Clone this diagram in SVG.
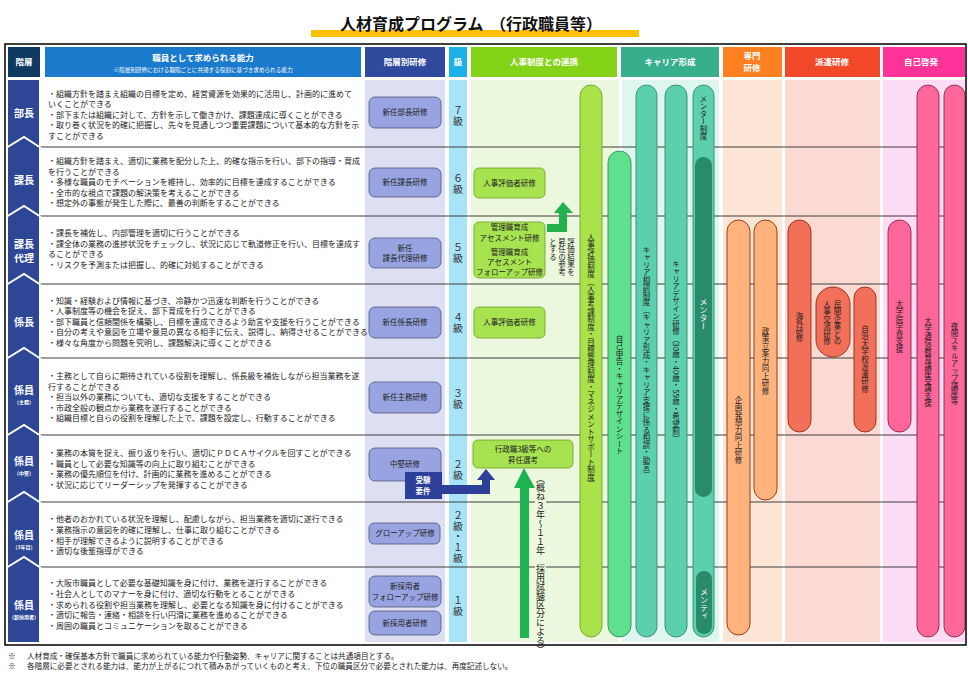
<svg xmlns="http://www.w3.org/2000/svg" width="968" height="680" viewBox="0 0 968 680">
<style>
text{font-family:"Noto Sans CJK JP","Noto Sans",sans-serif;fill:#222}
.body{font-size:8px}
.hd{font-size:8.5px;font-weight:bold;fill:#fff;text-anchor:middle}
.lv{font-size:10px;font-weight:bold;fill:#fff;text-anchor:middle}
.sub{font-size:5px;font-weight:bold;fill:#fff;text-anchor:middle}
.kbox{fill:#98a4e2;stroke:#4e5678;stroke-width:0.8}
.kt{font-size:7.5px;text-anchor:middle}
.gbox{fill:#a7e250;stroke:#6b9f25;stroke-width:0.8}
.vt{writing-mode:vertical-rl;font-size:7.5px}
.kyu{writing-mode:vertical-rl;font-size:10px;fill:#333;letter-spacing:1.5px}
.row{stroke:#3d3d3d;stroke-width:1}
.pl{fill:#a9e24a;stroke:#76a02c;stroke-width:0.9}
.pg{fill:#5fe08c;stroke:#2f8c62;stroke-width:0.9}
.pt{fill:#5ccfad;stroke:#2f8c70;stroke-width:0.9}
.po{fill:#ffb37c;stroke:#8c2c12;stroke-width:0.9}
.pr{fill:#f2705a;stroke:#8c2c12;stroke-width:0.9}
.pp{fill:#ff6699;stroke:#8c2446;stroke-width:0.9}
.chev{fill:none;stroke:#fff;stroke-width:2}
</style>

<!-- title -->
<g id="title">
<rect x="311" y="30" width="328" height="7" fill="#ffc000"/>
<text x="340" y="30" style="font-size:16px;font-weight:bold;fill:#111">人材育成プログラム</text>
<text x="490" y="30" style="font-size:16px;font-weight:bold;fill:#111">（行政職員等）</text>
</g>

<!-- column backgrounds -->
<g id="backgrounds">
<rect x="365" y="80" width="80" height="562" fill="#dde0f2"/>
<rect x="449" y="80" width="18" height="562" fill="#a8e4f8"/>
<rect x="471" y="80" width="148" height="562" fill="#ebf8dd"/>
<rect x="622" y="80" width="97" height="562" fill="#dff5ef"/>
<rect x="723" y="80" width="59" height="562" fill="#fde6d6"/>
<rect x="785" y="80" width="95" height="562" fill="#fbdad4"/>
<rect x="883" y="80" width="82" height="562" fill="#fddcf5"/>
</g>

<!-- header -->
<g id="header">
<rect x="8" y="47" width="32" height="30" fill="#0f3a62"/>
<text class="hd" x="24" y="65">階層</text>
<rect x="45" y="47" width="316" height="30" fill="#1a7acb"/>
<text class="hd" x="203" y="61">職員として求められる能力</text>
<text x="203" y="72" style="font-size:5.6px;fill:#fff;text-anchor:middle">※階層別研修における職階ごとに共通する役割に基づき求められる能力</text>
<rect x="365" y="47" width="80" height="30" fill="#2f4a9c"/>
<text class="hd" x="405" y="65">階層別研修</text>
<rect x="449" y="47" width="18" height="30" fill="#1ab2e8"/>
<text class="hd" x="458" y="65">級</text>
<rect x="471" y="47" width="146" height="30" fill="#84d318"/>
<text class="hd" x="544" y="65">人事制度との連携</text>
<rect x="621" y="47" width="98" height="30" fill="#37ae8c"/>
<text class="hd" x="670" y="65">キャリア形成</text>
<rect x="723" y="47" width="59" height="30" fill="#ff8020"/>
<text class="hd" x="752" y="59">専門</text>
<text class="hd" x="752" y="71">研修</text>
<rect x="785" y="47" width="95" height="30" fill="#f04828"/>
<text class="hd" x="832" y="65">派遣研修</text>
<rect x="883" y="47" width="82" height="30" fill="#ff3399"/>
<text class="hd" x="921" y="65">自己啓発</text>
</g>

<!-- row lines -->
<g id="rowlines">
<line class="row" x1="40" y1="147" x2="965" y2="147"/>
<line class="row" x1="40" y1="216" x2="965" y2="216"/>
<line class="row" x1="40" y1="284" x2="965" y2="284"/>
<line class="row" x1="40" y1="358" x2="965" y2="358"/>
<line class="row" x1="40" y1="435" x2="965" y2="435"/>
<line class="row" x1="40" y1="502" x2="965" y2="502"/>
<line class="row" x1="40" y1="567" x2="965" y2="567"/>
</g>

<!-- level column -->
<g id="levels">
<rect x="8" y="80" width="31" height="562" fill="#2e4696"/>
<polyline class="chev" points="6,148 24,137 41,148"/>
<polyline class="chev" points="6,217 24,206 41,217"/>
<polyline class="chev" points="6,285 24,274 41,285"/>
<polyline class="chev" points="6,359 24,348 41,359"/>
<polyline class="chev" points="6,436 24,425 41,436"/>
<polyline class="chev" points="6,503 24,492 41,503"/>
<polyline class="chev" points="6,568 24,557 41,568"/>
<text class="lv" x="24" y="117">部長</text>
<text class="lv" x="24" y="184">課長</text>
<text class="lv" x="24" y="248">課長</text>
<text class="lv" x="24" y="262">代理</text>
<text class="lv" x="24" y="326">係長</text>
<text class="lv" x="24" y="394">係員</text>
<text class="sub" x="24" y="403.5">（主務）</text>
<text class="lv" x="24" y="465">係員</text>
<text class="sub" x="24" y="474.5">（中堅）</text>
<text class="lv" x="24" y="539">係員</text>
<text class="sub" x="24" y="548.5">（3年目）</text>
<text class="lv" x="24" y="609">係員</text>
<text class="sub" x="24" y="618.5">（新採用者）</text>
</g>

<!-- abilities -->
<g id="abilities" class="body">
<text class="body" x="48" y="97">・組織方針を踏まえ組織の目標を定め、経営資源を効果的に活用し、計画的に進めて</text>
<text class="body" x="48" y="107.4">いくことができる</text>
<text class="body" x="48" y="117.8">・部下または組織に対して、方針を示して働きかけ、課題達成に導くことができる</text>
<text class="body" x="48" y="128.2">・取り巻く状況を的確に把握し、先々を見通しつつ重要課題について基本的な方針を示</text>
<text class="body" x="48" y="138.6">すことができる</text>

<text class="body" x="48" y="164">・組織方針を踏まえ、適切に業務を配分した上、的確な指示を行い、部下の指導・育成</text>
<text class="body" x="48" y="174.5">を行うことができる</text>
<text class="body" x="48" y="185">・多様な職員のモチベーションを維持し、効率的に目標を達成することができる</text>
<text class="body" x="48" y="195.5">・全市的な視点で課題の解決策を考えることができる</text>
<text class="body" x="48" y="206">・想定外の事態が発生した際に、最善の判断をすることができる</text>

<text class="body" x="48" y="236">・課長を補佐し、内部管理を適切に行うことができる</text>
<text class="body" x="48" y="246.6">・課全体の業務の進捗状況をチェックし、状況に応じて軌道修正を行い、目標を達成す</text>
<text class="body" x="48" y="257.2">ることができる</text>
<text class="body" x="48" y="267.8">・リスクを予測または把握し、的確に対処することができる</text>

<text class="body" x="48" y="304">・知識・経験および情報に基づき、冷静かつ迅速な判断を行うことができる</text>
<text class="body" x="48" y="314.4">・人事制度等の機会を捉え、部下育成を行うことができる</text>
<text class="body" x="48" y="324.8">・部下職員と信頼関係を構築し、目標を達成できるよう助言や支援を行うことができる</text>
<text class="body" x="48" y="335.2">・自分の考えや意図を立場や意見の異なる相手に伝え、説得し、納得させることができる</text>
<text class="body" x="48" y="345.6">・様々な角度から問題を究明し、課題解決に導くことができる</text>

<text class="body" x="48" y="379">・主務として自らに期待されている役割を理解し、係長級を補佐しながら担当業務を遂</text>
<text class="body" x="48" y="389.5">行することができる</text>
<text class="body" x="48" y="400">・担当以外の業務についても、適切な支援をすることができる</text>
<text class="body" x="48" y="410.5">・市政全般の観点から業務を遂行することができる</text>
<text class="body" x="48" y="421">・組織目標と自らの役割を理解した上で、課題を設定し、行動することができる</text>

<text class="body" x="48" y="456">・業務の本質を捉え、振り返りを行い、適切にＰＤＣＡサイクルを回すことができる</text>
<text class="body" x="48" y="466.5">・職員として必要な知識等の向上に取り組むことができる</text>
<text class="body" x="48" y="477">・業務の優先順位を付け、計画的に業務を進めることができる</text>
<text class="body" x="48" y="487.5">・状況に応じてリーダーシップを発揮することができる</text>

<text class="body" x="48" y="522">・他者のおかれている状況を理解し、配慮しながら、担当業務を適切に遂行できる</text>
<text class="body" x="48" y="532.8">・業務指示の意図を的確に理解し、仕事に取り組むことができる</text>
<text class="body" x="48" y="543.6">・相手が理解できるように説明することができる</text>
<text class="body" x="48" y="554.4">・適切な後輩指導ができる</text>

<text class="body" x="48" y="586">・大阪市職員として必要な基礎知識を身に付け、業務を遂行することができる</text>
<text class="body" x="48" y="596.8">・社会人としてのマナーを身に付け、適切な行動をとることができる</text>
<text class="body" x="48" y="607.6">・求められる役割や担当業務を理解し、必要となる知識を身に付けることができる</text>
<text class="body" x="48" y="618.4">・適切に報告・連絡・相談を行い円滑に業務を進めることができる</text>
<text class="body" x="48" y="629.2">・周囲の職員とコミュニケーションを取ることができる</text>
</g>

<!-- grade labels -->
<g id="grades">
<text class="kyu" x="458" y="105">７級</text>
<text class="kyu" x="458" y="173">６級</text>
<text class="kyu" x="458" y="242">５級</text>
<text class="kyu" x="458" y="312">４級</text>
<text class="kyu" x="458" y="388">３級</text>
<text class="kyu" x="458" y="459">２級</text>
<text class="kyu" x="458" y="510" style="letter-spacing:0.8px">２級・１級</text>
<text class="kyu" x="458" y="595">１級</text>
</g>

<!-- rank training -->
<g id="k-bucho"><rect class="kbox" x="369" y="97" width="72" height="31" rx="6"/><text class="kt" x="405" y="115">新任部長研修</text></g>
<g id="k-kacho"><rect class="kbox" x="369" y="168" width="72" height="29" rx="6"/><text class="kt" x="405" y="185">新任課長研修</text></g>
<g id="k-dairi"><rect class="kbox" x="369" y="238" width="72" height="30" rx="6"/><text class="kt" x="405" y="251">新任</text><text class="kt" x="405" y="261">課長代理研修</text></g>
<g id="k-kakaricho"><rect class="kbox" x="369" y="307" width="72" height="31" rx="6"/><text class="kt" x="405" y="325">新任係長研修</text></g>
<g id="k-shumu"><rect class="kbox" x="369" y="382" width="72" height="31" rx="6"/><text class="kt" x="405" y="400">新任主務研修</text></g>
<g id="k-chuken"><rect class="kbox" x="369" y="448" width="72" height="33" rx="6"/><text class="kt" x="405" y="467">中堅研修</text></g>
<g id="k-grow"><rect class="kbox" x="369" y="523" width="71" height="21" rx="5"/><text class="kt" x="405" y="536">グローアップ研修</text></g>
<g id="k-follow"><rect class="kbox" x="369" y="576" width="72" height="31" rx="6"/><text class="kt" x="405" y="589">新採用者</text><text class="kt" x="405" y="600">フォローアップ研修</text></g>
<g id="k-shinsai"><rect class="kbox" x="369" y="611" width="72" height="24" rx="6"/><text class="kt" x="405" y="626">新採用者研修</text></g>

<!-- HR system boxes -->
<g id="j-hyoka6"><rect class="gbox" x="474" y="168" width="71" height="30" rx="5"/><text class="kt" x="509.5" y="186">人事評価者研修</text></g>
<g id="j-assess"><rect class="gbox" x="474" y="222" width="71" height="56" rx="5"/>
<text class="kt" x="509.5" y="230">管理職育成</text><text class="kt" x="509.5" y="241">アセスメント研修</text>
<text class="kt" x="509.5" y="255">管理職育成</text><text class="kt" x="509.5" y="265">アセスメント</text><text class="kt" x="509.5" y="275">フォローアップ研修</text></g>
<g id="j-hyoka4"><rect class="gbox" x="474" y="307" width="71" height="31" rx="5"/><text class="kt" x="509.5" y="325">人事評価者研修</text></g>
<g id="j-shonin"><rect class="gbox" x="473" y="440" width="100" height="28" rx="5"/><text class="kt" x="523" y="452">行政職3級等への</text><text class="kt" x="523" y="463">昇任選考</text></g>
<g id="note-hyoka">
<text class="vt" x="571" y="238">評価結果を</text>
<text class="vt" x="562" y="238">昇任の参考</text>
<text class="vt" x="553" y="238">とする</text>
</g>

<!-- connectors -->
<g id="connectors">
<polygon fill="#22b14c" points="547,224 559,224 559,213 554,213 563,202 573,213 567,213 567,232 547,232"/>
<polygon fill="#2e3f9a" points="442,485 482,485 482,480 477,480 486,469 495,480 490,480 490,494 442,494"/>
<polygon fill="#1db350" points="520,638 520,488 514,488 524,468 535,488 529,488 529,638"/>
</g>

<g id="juken"><rect x="405" y="472" width="37" height="27" fill="#2e3f9a"/>
<text x="423" y="483" style="font-size:7.5px;font-weight:bold;fill:#fff;text-anchor:middle">受験</text>
<text x="423" y="494" style="font-size:7.5px;font-weight:bold;fill:#fff;text-anchor:middle">要件</text></g>

<g id="note-years">
<rect x="535" y="474" width="11" height="160" fill="#ebf8dd"/>
<text class="vt" x="540.5" y="474" style="font-size:9px">（概ね３年～１１年　採用試験区分による）</text>
</g>

<!-- pills -->
<g id="p-jinji"><rect class="pl" x="580" y="85" width="22" height="552" rx="11"/><text class="vt" x="591" y="233">人事評価制度（人事考課制度・目標管理制度・マネジメントサポート制度）</text></g>
<g id="p-jiko"><rect class="pg" x="608" y="151" width="23" height="486" rx="11.5"/><text class="vt" x="619.5" y="335">自己申告・キャリアデザインシート</text></g>
<g id="p-soudan"><rect class="pt" x="636" y="85" width="21" height="552" rx="10.5"/><text class="vt" x="646.5" y="246">キャリア相談制度（キャリア形成・キャリア支援に係る相談・助言）</text></g>
<g id="p-design"><rect class="pt" x="665" y="85" width="22" height="552" rx="11"/><text class="vt" x="676" y="260">キャリアデザイン研修（30歳・40歳・55歳・希望制）</text></g>
<g id="p-mentor"><rect class="pt" x="693" y="85" width="21" height="552" rx="10.5"/><text class="vt" x="703.5" y="95">メンター制度</text>
<rect x="695" y="157" width="17" height="340" rx="8.5" fill="#2a8a6c"/><text class="vt" x="703.5" y="298" style="fill:#fff;font-size:8px">メンター</text>
<rect x="696" y="571" width="16" height="63" rx="8" fill="#2a8a6c"/><text class="vt" x="704" y="588" style="fill:#fff;font-size:8px">メンティ</text></g>
<g id="p-kikaku"><rect class="po" x="727" y="220" width="23" height="415" rx="11.5"/><text class="vt" x="738.5" y="396">企画発想力向上研修</text></g>
<g id="p-seisaku"><rect class="po" x="754" y="220" width="23" height="280" rx="11.5"/><text class="vt" x="765.5" y="327">政策立案力向上研修</text></g>
<g id="p-kaigai"><rect class="pr" x="788" y="220" width="23" height="212" rx="11.5"/><text class="vt" x="799.5" y="312">海外研修</text></g>
<g id="p-minkan"><rect class="pr" x="816" y="287" width="34" height="70" rx="17"/><text class="vt" x="837.5" y="300">民間企業との</text><text class="vt" x="827" y="300">人事交流研修</text></g>
<g id="p-jichi"><rect class="pr" x="854" y="287" width="22" height="145" rx="11"/><text class="vt" x="865" y="325">自治大学校派遣研修</text></g>
<g id="p-daigakuin"><rect class="pp" x="888" y="220" width="23" height="212" rx="11.5"/><text class="vt" x="899.5" y="300">大学院学費支援</text></g>
<g id="p-tsushin"><rect class="pp" x="917" y="85" width="22" height="552" rx="11"/><text class="vt" x="928" y="317">大学通信教育講座受講支援</text></g>
<g id="p-yakan"><rect class="pp" x="944" y="85" width="21" height="552" rx="10.5"/><text class="vt" x="954.5" y="322">夜間スキルアップ講座等</text></g>

<!-- frame -->
<rect x="5" y="44" width="961" height="601" fill="none" stroke="#000" stroke-width="1.5"/>

<g id="footer">
<text x="8" y="659" style="font-size:7.6px">※</text>
<text x="27" y="659" style="font-size:7.6px">人材育成・確保基本方針で職員に求められている能力や行動姿勢、キャリアに関することは共通項目とする。</text>
<text x="8" y="669" style="font-size:7.6px">※</text>
<text x="27" y="669" style="font-size:7.6px">各階層に必要とされる能力は、能力が上がるにつれて積みあがっていくものと考え、下位の職員区分で必要とされた能力は、再度記述しない。</text>
</g>
</svg>
